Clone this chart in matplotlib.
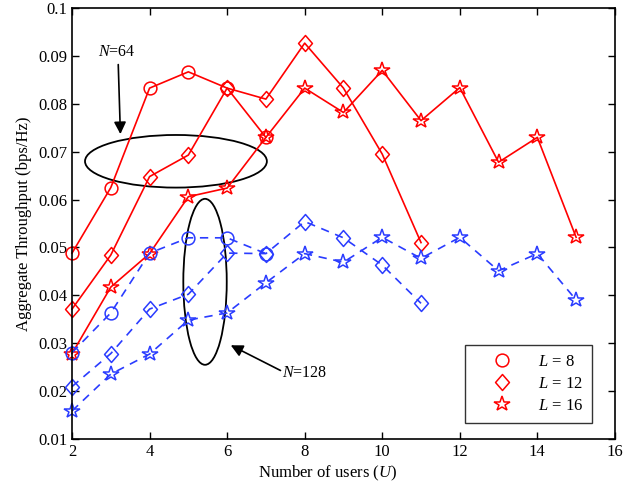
import matplotlib
matplotlib.use("Agg")
import matplotlib.pyplot as plt
from matplotlib.patches import Ellipse
from matplotlib.path import Path

plt.rcParams['font.family'] = ['Liberation Serif', 'DejaVu Serif']
plt.rcParams['mathtext.fontset'] = 'custom'
plt.rcParams['mathtext.it'] = 'Liberation Serif:italic'
plt.rcParams['mathtext.rm'] = 'Liberation Serif'

# N = 64 (red, solid)
u_l8 = [2, 3, 4, 5, 6, 7]
u_l12 = [2, 3, 4, 5, 6, 7, 8, 9, 10, 11]
u_l16 = [2, 3, 4, 5, 6, 7, 8, 9, 10, 11, 12, 13, 14, 15]

n64_l8 = [0.0488, 0.0625, 0.0833, 0.0867, 0.0833, 0.0730]
n64_l12 = [0.0371, 0.0484, 0.0648, 0.0693, 0.0833, 0.0810, 0.0927, 0.0833, 0.0695, 0.0510]
n64_l16 = [0.0278, 0.0417, 0.0487, 0.0606, 0.0624, 0.0730, 0.0833, 0.0782, 0.0870,
           0.0765, 0.0834, 0.0678, 0.0730, 0.0521]

# N = 128 (blue, dashed)
n128_l8 = [0.0280, 0.0363, 0.0488, 0.0520, 0.0520, 0.0487]
n128_l12 = [0.0209, 0.0278, 0.0371, 0.0402, 0.0488, 0.0487, 0.0554, 0.0520, 0.0463, 0.0383]
n128_l16 = [0.0158, 0.0235, 0.0277, 0.0348, 0.0363, 0.0426, 0.0487, 0.0469, 0.0521,
            0.0477, 0.0521, 0.0451, 0.0487, 0.0390]

legend_labels = ['$L$ = 8', '$L$ = 12', '$L$ = 16']

red = '#ff0000'
blue = '#2a3cff'

# matlab-like diamond, a bit taller than wide
diamond = Path([(0, 1), (0.87, 0), (0, -1), (-0.87, 0), (0, 1)],
               [Path.MOVETO, Path.LINETO, Path.LINETO, Path.LINETO, Path.CLOSEPOLY])

fig = plt.figure(figsize=(6.23, 4.84), dpi=100)
ax = fig.add_axes([0.1156, 0.0936, 0.8714, 0.8894])

styles = [('o', 9.2), (diamond, 11.5), ('*', 11.5)]
red_handles = []
for u, y, (m, ms), lab in zip([u_l8, u_l12, u_l16], [n64_l8, n64_l12, n64_l16], styles, legend_labels):
    h, = ax.plot(u, y, color=red, lw=1.2, marker=m, markersize=ms, markerfacecolor='none',
                 markeredgecolor=red, markeredgewidth=1.1, label=lab, clip_on=False)
    red_handles.append(h)

for u, y, (m, ms) in zip([u_l8, u_l12, u_l16], [n128_l8, n128_l12, n128_l16], styles):
    ax.plot(u, y, color=blue, lw=1.2, ls=(0, (5, 4)), marker=m, markersize=ms,
            markerfacecolor='none', markeredgecolor=blue, markeredgewidth=1.1, clip_on=False)

# ellipses and annotations
ax.add_patch(Ellipse((4.68, 0.068), 4.69, 0.011, fill=False, ec='black', lw=1.3))
ax.add_patch(Ellipse((5.43, 0.0428), 1.12, 0.0347, fill=False, ec='black', lw=1.3))

ax.annotate('', xy=(3.25, 0.0731), xytext=(3.19, 0.0888),
            arrowprops=dict(arrowstyle='-|>', color='black', lw=1.2, mutation_scale=18))
ax.text(3.15, 0.0909, '$N$=64', fontsize=11.5, ha='center', va='center')

ax.annotate('', xy=(6.03, 0.0298), xytext=(7.44, 0.0240),
            arrowprops=dict(arrowstyle='-|>', color='black', lw=1.2, mutation_scale=18))
ax.text(8.0, 0.0237, '$N$=128', fontsize=11.5, ha='center', va='center')

ax.set_xlim(2, 16)
ax.set_ylim(0.01, 0.1)
ax.set_xticks(range(2, 17, 2))
ax.set_yticks([0.01, 0.02, 0.03, 0.04, 0.05, 0.06, 0.07, 0.08, 0.09, 0.1])
ax.set_yticklabels(['0.01', '0.02', '0.03', '0.04', '0.05', '0.06', '0.07', '0.08', '0.09', '0.1'])
ax.tick_params(direction='in', top=True, right=True, labelsize=12, length=5, width=1)
for s in ax.spines.values():
    s.set_linewidth(1.2)

ax.set_xlabel('Number of users ($U$)', fontsize=12)
ax.xaxis.set_label_coords(0.471, -0.058)
ax.set_ylabel('Aggregate Throughput (bps/Hz)', fontsize=12, labelpad=4)

leg = ax.legend(handles=red_handles, loc='lower right', bbox_to_anchor=(0.958, 0.037),
                fontsize=12, frameon=True, fancybox=False, edgecolor='black',
                handlelength=3.3, handletextpad=0.5, borderpad=0.55, labelspacing=0.35,
                borderaxespad=0)
leg.get_frame().set_linewidth(1.0)
for h in leg.legend_handles:
    h.set_linestyle('none')

fig.savefig('out.png', dpi=100)
